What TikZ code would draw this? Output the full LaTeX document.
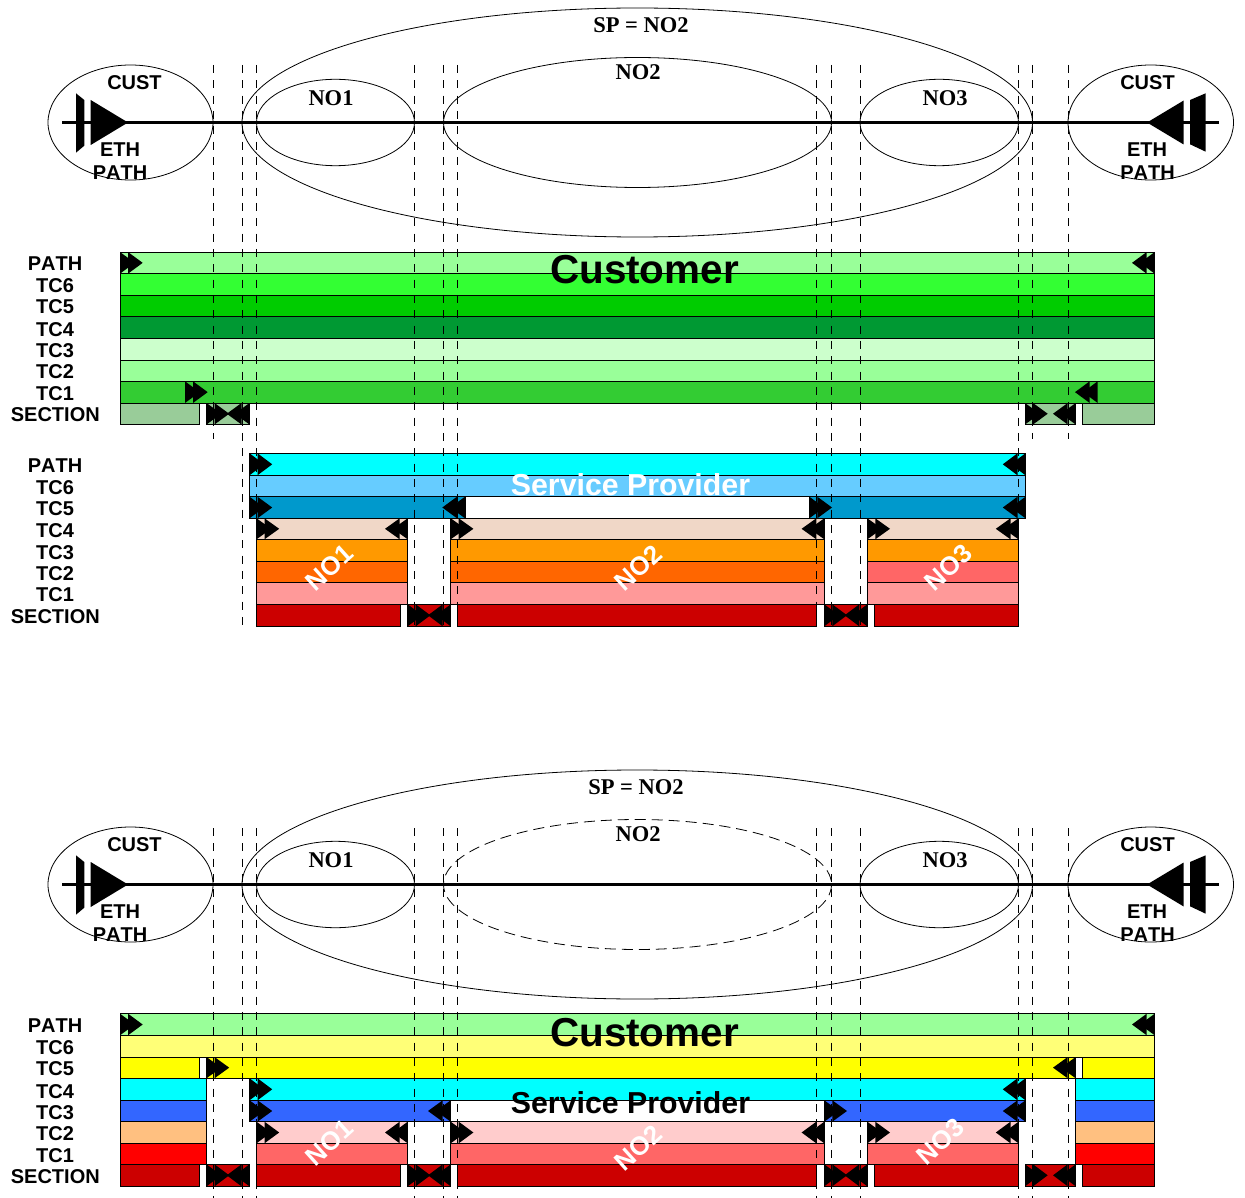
\documentclass[tikz,border=0pt]{standalone}
\usepackage{fontspec}
\setmainfont{Liberation Serif}
\setsansfont[Kerning=Off]{Liberation Sans}
\definecolor{gA}{HTML}{99FF99}\definecolor{gB}{HTML}{33FF33}\definecolor{gC}{HTML}{00CC00}
\definecolor{gD}{HTML}{009933}\definecolor{gE}{HTML}{CCFFCC}\definecolor{gF}{HTML}{33CC33}
\definecolor{gG}{HTML}{99CC99}
\definecolor{bA}{HTML}{00FFFF}\definecolor{bB}{HTML}{66CCFF}\definecolor{bC}{HTML}{0099CC}
\definecolor{bD}{HTML}{3366FF}
\definecolor{oA}{HTML}{F0D7C7}\definecolor{oB}{HTML}{FF9900}\definecolor{oC}{HTML}{FF6600}
\definecolor{oD}{HTML}{FF9999}\definecolor{oE}{HTML}{FF6666}\definecolor{oF}{HTML}{CC0000}
\definecolor{oG}{HTML}{FFCCCC}\definecolor{oH}{HTML}{FFC080}\definecolor{oI}{HTML}{FF0000}
\definecolor{yA}{HTML}{FFFF77}\definecolor{yB}{HTML}{FFFF00}
\tikzset{
  thinline/.style={draw=black,line width=0.8pt},
  dashline/.style={draw=black,line width=0.8pt,dash pattern=on 8pt off 7.33pt},
  rowlabel/.style={inner sep=0pt,font=\sffamily\bfseries\fontsize{20}{20}\selectfont},
  titlelabel/.style={inner sep=0pt,font=\rmfamily\bfseries\fontsize{22.5}{22.5}\selectfont},
  tag/.style={inner sep=0pt,text=white,rotate=42,font=\sffamily\bfseries\fontsize{26}{26}\selectfont},
  big/.style={inner sep=0pt,font=\sffamily\bfseries\fontsize{40.4}{40.4}\selectfont},
  mid/.style={inner sep=0pt,font=\sffamily\bfseries\fontsize{30.3}{30.3}\selectfont},
  oval/.style={thinline},
  mainline/.style={draw=black,line width=3pt}
}
% rows
\newcommand{\rb}[5]{\fill[#1] (#2,#4) rectangle (#3,#5);\draw[thinline] (#2,#4) rectangle (#3,#5);}
\newcommand{\tR}[3]{\fill[black] (#1,#2) -- (#1+14.7,{(#2+#3)/2}) -- (#1,#3) -- cycle;
  \fill[black] (#1+8,#2) -- (#1+22.7,{(#2+#3)/2}) -- (#1+8,#3) -- cycle;}
\newcommand{\tL}[3]{\fill[black] (#1,#2) -- (#1-14.7,{(#2+#3)/2}) -- (#1,#3) -- cycle;
  \fill[black] (#1-8,#2) -- (#1-22.7,{(#2+#3)/2}) -- (#1-8,#3) -- cycle;}
% network strip: #1 = y offset, #2 = NO2 style, #3 = suffix
\newcommand{\strip}[4]{%
 \begin{scope}[yshift=-#1pt]
  \draw[oval] (130.5,122.5) ellipse [x radius=82.5,y radius=57.5];
  \draw[oval] (1150.75,122.5) ellipse [x radius=82.75,y radius=57.5];
  \draw[oval] (335.5,122.5) ellipse [x radius=79,y radius=43.2];
  \draw[oval,#2] (637.5,122.5) ellipse [x radius=194,y radius=65];
  \draw[oval] (939.25,122.5) ellipse [x radius=79.25,y radius=43.2];
  \draw[oval] (637.25,122.5) ellipse [x radius=395.25,y radius=114.5];
  \coordinate (la#3) at (62,122.5);
  \coordinate (lb#3) at (1219,122.5);
  \draw[mainline] (la#3) -- (lb#3);
  \fill[black] (76,93.3) -- (84.3,100) -- (84.3,145.7) -- (76,152.7) -- cycle;
  \fill[black] (90.7,100) -- (128,122.5) -- (90.7,145) -- cycle;
  \fill[black] (1205.7,93.3) -- (1190,100) -- (1190,144.3) -- (1205.7,151.7) -- cycle;
  \fill[black] (1183.7,100.5) -- (1147,122.5) -- (1183.7,144.5) -- cycle;
  \node[titlelabel] (sp#3) at (#4,25) {SP = NO2};
  \node[titlelabel] (notwo#3) at (638,72) {NO2};
  \node[titlelabel] (noone#3) at (331,98) {NO1};
  \node[titlelabel] (nothree#3) at (945,98) {NO3};
  \node[rowlabel] (custl#3) at (134.5,83) {CUST};
  \node[rowlabel] (custr#3) at (1147.5,83) {CUST};
  \node[rowlabel] (ethl#3) at (120,150) {ETH};
  \node[rowlabel] (ethr#3) at (1147,150) {ETH};
  \node[rowlabel] (pathl#3) at (120,173) {PATH};
  \node[rowlabel] (pathr#3) at (1147.5,173) {PATH};
 \end{scope}}
\newcommand{\labels}[9]{%
  \node[rowlabel] (#9a) at (55,#1) {PATH};
  \node[rowlabel] (#9b) at (55,#2) {TC6};
  \node[rowlabel] (#9c) at (55,#3) {TC5};
  \node[rowlabel] (#9d) at (55,#4) {TC4};
  \node[rowlabel] (#9e) at (55,#5) {TC3};
  \node[rowlabel] (#9f) at (55,#6) {TC2};
  \node[rowlabel] (#9g) at (55,#7) {TC1};
  \node[rowlabel] (#9h) at (55.3,#8) {SECTION};}
\begin{document}
\begin{tikzpicture}[x=1pt,y=-1pt]
\useasboundingbox (0,0) rectangle (1245,1198);
\fill[white] (0,0) rectangle (1245,1198);

\strip{0}{}{t}{641}
\strip{762}{dashed,dash pattern=on 11pt off 6pt}{b}{636}

% ---- block 1: Customer
\rb{gA}{120}{1154.7}{252}{273.7}
\rb{gB}{120}{1154.7}{273.7}{295.3}
\rb{gC}{120}{1154.7}{295.3}{316.7}
\rb{gD}{120}{1154.7}{316.7}{338.3}
\rb{gE}{120}{1154.7}{338.3}{360}
\rb{gA}{120}{1154.7}{360}{381.3}
\rb{gF}{120}{1154.7}{381.3}{403}
\rb{gG}{120}{199}{403}{424.5}
\rb{gG}{206.5}{249.5}{403}{424.5}
\rb{gG}{1025}{1075.7}{403}{424.5}
\rb{gG}{1082.7}{1154.7}{403}{424.5}
\tR{120}{252}{273.7}\tL{1154.7}{252}{273.7}
\tR{185}{381.3}{403}\tL{1097.7}{381.3}{403}
\tR{206.5}{403}{424.5}\tL{249.5}{403}{424.5}
\tR{1025}{403}{424.5}\tL{1075.7}{403}{424.5}

% ---- block 2: Service Provider
\rb{bA}{249.5}{1025.5}{453.3}{475.3}
\rb{bB}{249.5}{1025.5}{475.3}{496.7}
\rb{bC}{249.5}{465}{496.7}{518.3}
\rb{bC}{809.3}{1025.5}{496.7}{518.3}
\rb{white}{465}{809.3}{496.7}{518.3}
\foreach \xa/\xb/\cc/\cd in {256.5/407.7/oC/oB,450.7/824.3/oC/oB,867.3/1018.5/oE/oB}{
  \rb{oA}{\xa}{\xb}{518.3}{539.3}
  \rb{\cd}{\xa}{\xb}{539.3}{561.3}
  \rb{\cc}{\xa}{\xb}{561.3}{582.7}
  \rb{oD}{\xa}{\xb}{582.7}{604.3}
  \tR{\xa}{518.3}{539.3}\tL{\xb}{518.3}{539.3}
}
\foreach \xa/\xb in {256.5/400.7,457.3/816.7,874.3/1018.5}{\rb{oF}{\xa}{\xb}{604.3}{626.3}}
\foreach \xa/\xb in {407.7/450.7,824.3/867.3}{\rb{oF}{\xa}{\xb}{604.3}{626.3}\tR{\xa}{604.3}{626.3}\tL{\xb}{604.3}{626.3}}
\tR{249.5}{453.3}{475.3}\tL{1025.5}{453.3}{475.3}
\tR{249.5}{496.7}{518.3}\tL{465}{496.7}{518.3}
\tR{809.3}{496.7}{518.3}\tL{1025.5}{496.7}{518.3}

% ---- block 3: both
\rb{gA}{120}{1154.7}{1013.7}{1035.3}
\rb{yA}{120}{1154.7}{1035.3}{1057}
\rb{yB}{120}{199}{1057}{1078.3}
\rb{yB}{206.5}{1075.7}{1057}{1078.3}
\rb{yB}{1082.7}{1154.7}{1057}{1078.3}
\rb{bA}{120}{206.5}{1078.3}{1100.3}
\rb{bD}{120}{206.5}{1100.3}{1121.7}
\rb{oH}{120}{206.5}{1121.7}{1143.3}
\rb{oI}{120}{206.5}{1143.3}{1164.3}
\rb{bA}{1075.7}{1154.7}{1078.3}{1100.3}
\rb{bD}{1075.7}{1154.7}{1100.3}{1121.7}
\rb{oH}{1075.7}{1154.7}{1121.7}{1143.3}
\rb{oI}{1075.7}{1154.7}{1143.3}{1164.3}
\rb{bA}{249.5}{1025.5}{1078.3}{1100.3}
\rb{bD}{249.5}{450.7}{1100.3}{1121.7}
\rb{bD}{824.3}{1025.5}{1100.3}{1121.7}
\foreach \xa/\xb in {256.5/407.7,450.7/824.3,867.3/1018.5}{
  \rb{oG}{\xa}{\xb}{1121.7}{1143.3}
  \rb{oE}{\xa}{\xb}{1143.3}{1164.3}
  \tR{\xa}{1121.7}{1143.3}\tL{\xb}{1121.7}{1143.3}
}
\foreach \xa/\xb in {120/199,256.5/400.7,457.3/816.7,874.3/1018.5,1082.7/1154.7}{\rb{oF}{\xa}{\xb}{1164.3}{1186.3}}
\foreach \xa/\xb in {206.5/249.5,407.7/450.7,824.3/867.3,1025/1075.7}{\rb{oF}{\xa}{\xb}{1164.3}{1186.3}\tR{\xa}{1164.3}{1186.3}\tL{\xb}{1164.3}{1186.3}}
\tR{120}{1013.7}{1035.3}\tL{1154.7}{1013.7}{1035.3}
\tR{206.5}{1057}{1078.3}\tL{1075.7}{1057}{1078.3}
\tR{249.5}{1078.3}{1100.3}\tL{1025.5}{1078.3}{1100.3}
\tR{249.5}{1100.3}{1121.7}\tL{450.7}{1100.3}{1121.7}
\tR{824.3}{1100.3}{1121.7}\tL{1025.5}{1100.3}{1121.7}

% ---- dashed guides
\foreach \x in {213,1032.5,1068}{\draw[dashline] (\x,65) -- (\x,439);}
\draw[dashline] (1018.5,65) -- (1018.5,505);
\foreach \x in {242,256.5,414.5,443.5,457.5,816.7,831.5,860}{\draw[dashline] (\x,65) -- (\x,626);}
\foreach \x in {213,242,256.5,414.5,443.5,457.5,816.7,831.5,860,1018.5,1032.5,1068}{\draw[dashline] (\x,828) -- (\x,1198);}

% ---- text
\labels{264}{286}{307}{330}{351}{372}{394}{415}{ua}
\labels{466}{488}{509}{531}{553}{574}{595}{617}{ub}
\labels{1026}{1048}{1069}{1092}{1113}{1134}{1156}{1177}{uc}
\node[big] (custa) at (644.5,270) {Customer};
\node[big] (custb) at (644.5,1033) {Customer};
\node[mid,text=white] (spa) at (630.5,485) {Service Provider};
\node[mid] (spb) at (630.5,1103) {Service Provider};
\node[tag] (na) at (329,567.5) {NO1};
\node[tag] (nb) at (638.5,568) {NO2};
\node[tag] (nc) at (948,567.5) {NO3};
\node[tag] (nd) at (329,1142.5) {NO1};
\node[tag] (ne) at (638.5,1148) {NO2};
\node[tag] (nf) at (940,1141.5) {NO3};
\end{tikzpicture}
\end{document}
